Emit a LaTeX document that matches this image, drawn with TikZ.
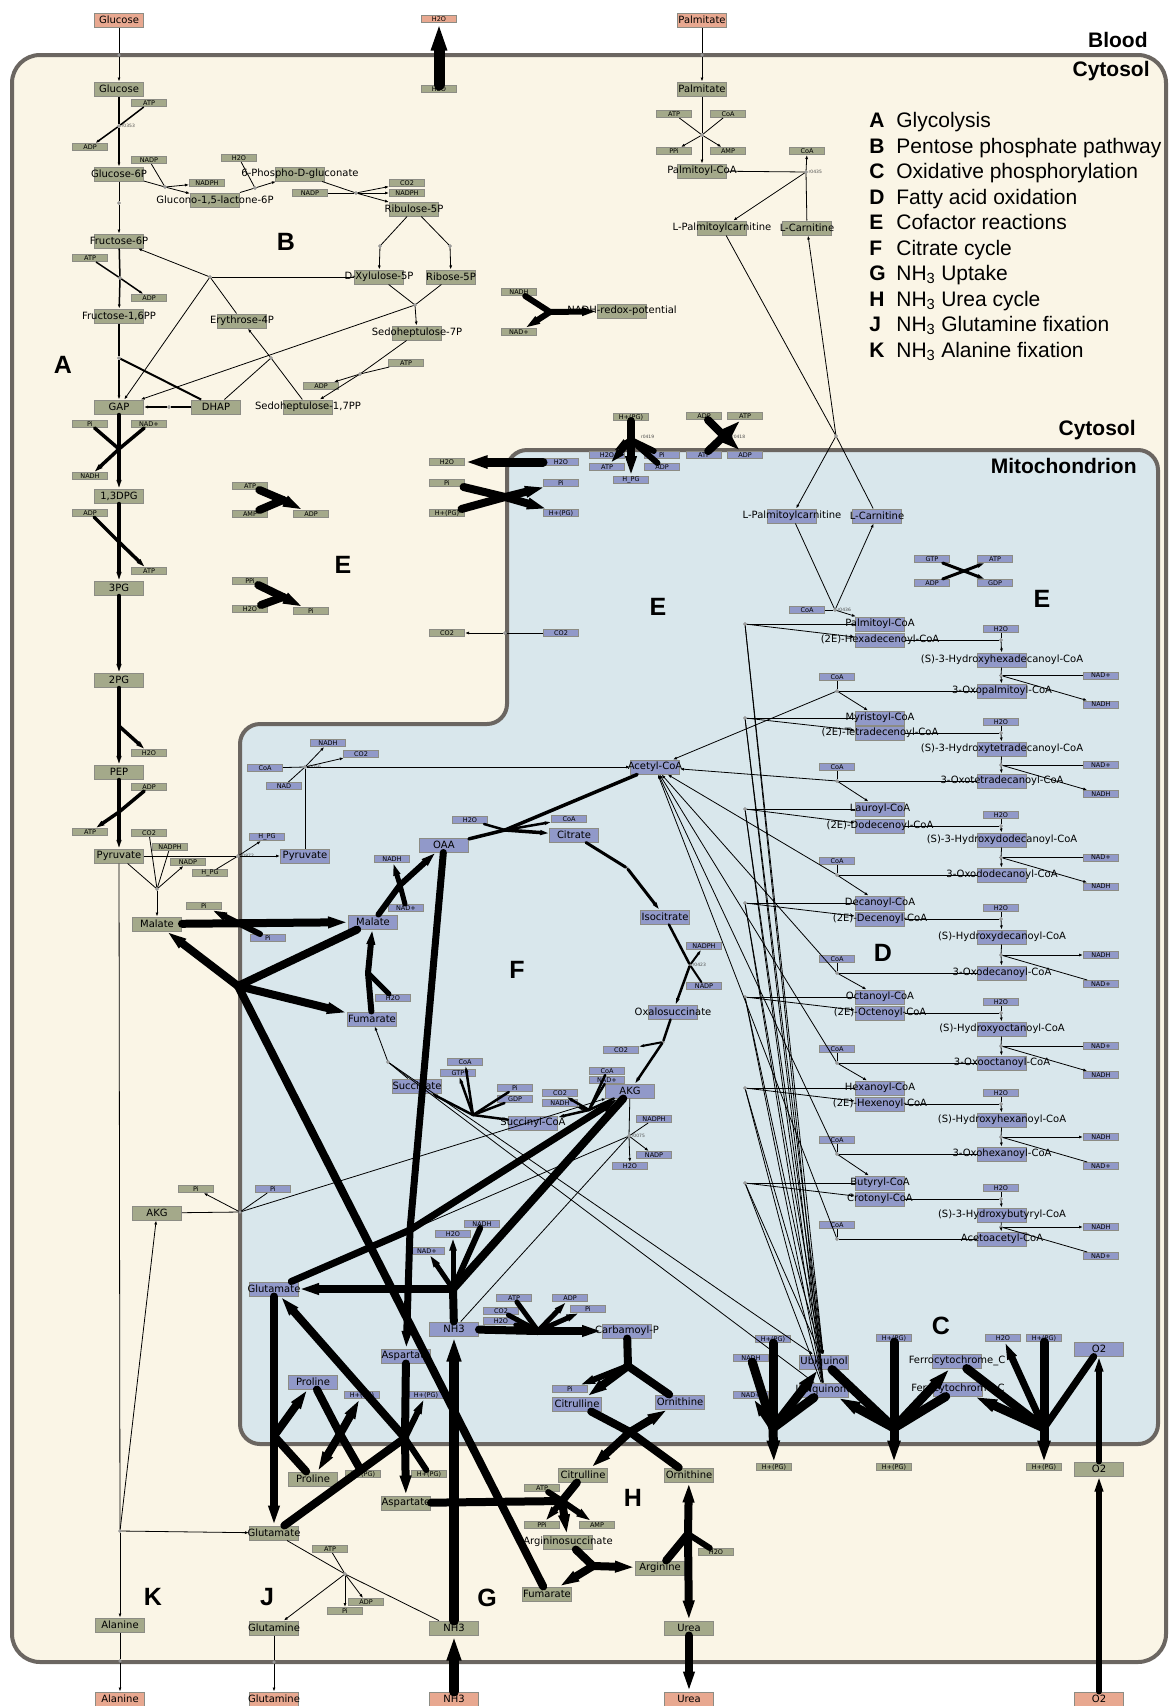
\documentclass[tikz,border=0pt]{standalone}
\usepackage{fontspec}
\setmainfont{DejaVu Sans}
\newfontfamily\headfont{Liberation Sans}
\usetikzlibrary{arrows.meta}

\definecolor{cytbg}{HTML}{FAF5E6}
\definecolor{mitbg}{HTML}{D9E7EC}
\definecolor{membr}{HTML}{6B6661}
\definecolor{cytfill}{HTML}{A4A98A}
\definecolor{mitfill}{HTML}{9199C9}
\definecolor{bldfill}{HTML}{E8A890}
\definecolor{boxline}{HTML}{8C8C84}
\definecolor{rxfill}{HTML}{B4B4B4}

\tikzset{
  met/.style={draw=boxline, line width=1pt, inner sep=0pt,
    minimum width=49pt, minimum height=14pt, font=\fontsize{10}{12}\selectfont,
    execute at begin node={\hbox to 0pt\bgroup\hss},
    execute at end node={\hss\egroup}},
  sm/.style={met, minimum width=35pt, minimum height=7pt, font=\fontsize{6.5}{7}\selectfont},
  cyt/.style={met, fill=cytfill},
  mit/.style={met, fill=mitfill},
  bld/.style={met, fill=bldfill},
  cytsm/.style={sm, fill=cytfill},
  mitsm/.style={sm, fill=mitfill},
  bldsm/.style={sm, fill=bldfill},
  rx/.style={circle, draw=gray, fill=rxfill, line width=0.4pt, inner sep=0pt, minimum size=3pt},
  rxlabel/.style={font=\fontsize{4.5}{5}\selectfont, text=black!70, inner sep=0.5pt},
  arr/.style={-{Latex[length=4pt,width=3pt]}},
  noarr/.style={},
  flux/.style={line width=#1, line cap=round, -{Triangle[length=0pt 2.5, width=0pt 1.3]}},
  flx/.style={line width=#1, line cap=round},
  membrane/.style={line width=4pt, draw=membr},
  comp/.style={font=\headfont\bfseries\fontsize{21}{24}\selectfont, inner sep=0pt},
  seclbl/.style={font=\headfont\bfseries\fontsize{25}{28}\selectfont, inner sep=0pt},
  legl/.style={font=\headfont\bfseries\fontsize{21}{24}\selectfont, inner sep=0pt},
  legt/.style={font=\headfont\fontsize{21}{24}\selectfont, inner sep=0pt}
}

\begin{document}
\begin{tikzpicture}[x=1pt, y=-1pt, line width=0.8pt]
\useasboundingbox (0,0) rectangle (1169,1706);

% compartments
\draw[membrane, fill=cytbg, rounded corners=28pt] (12,55) rectangle (1166,1662);
\draw[membrane, fill=mitbg, rounded corners=20pt] (800,450) -- (1158,450) -- (1158,1444)
  -- (240,1444) -- (240,724) -- (507,724) -- (507,450) -- cycle;
\node[comp, anchor=east] (lblood) at (1148,40) {Blood};
\node[comp, anchor=east] (lcyt) at (1150,71) {Cytosol};
\node[comp, anchor=east] (lcyt2) at (1136,430) {Cytosol};
\node[comp, anchor=east] (lmit) at (1137,466) {Mitochondrion};

% legend
\foreach \l/\t [count=\n] in {A/Glycolysis, B/Pentose phosphate pathway,
  C/Oxidative phosphorylation, D/Fatty acid oxidation, E/Cofactor reactions,
  F/Citrate cycle, G/NH\textsubscript{3} Uptake, H/NH\textsubscript{3} Urea cycle,
  J/NH\textsubscript{3} Glutamine fixation, K/NH\textsubscript{3} Alanine fixation}
{
  \node[legl, anchor=base west] (legl\n) at (869,102+25.5*\n) {\l};
  \node[legt, anchor=base west] (legt\n) at (896,102+25.5*\n) {\t};
}

% section letters
\node[seclbl] (sA) at (63,365) {A};
\node[seclbl] (sB) at (286,242) {B};
\node[seclbl] (sC) at (941,1326) {C};
\node[seclbl] (sD) at (883,953) {D};
\node[seclbl] (sE1) at (343,565) {E};
\node[seclbl] (sE2) at (658,607) {E};
\node[seclbl] (sE3) at (1042,599) {E};
\node[seclbl] (sF) at (517,970) {F};
\node[seclbl] (sG) at (487,1598) {G};
\node[seclbl] (sH) at (633,1498) {H};
\node[seclbl] (sJ) at (267,1597) {J};
\node[seclbl] (sK) at (153,1597) {K};

% blood
\node[bld] (bGlc) at (119,20) {Glucose};
\node[bldsm] (bH2O) at (439,19) {H2O};
\node[bld] (bPalm) at (702,20) {Palmitate};
\node[bld] (bAla) at (120,1699) {Alanine};
\node[bld] (bGln) at (274,1699) {Glutamine};
\node[bld] (bNH3) at (454,1699) {NH3};
\node[bld] (bUrea) at (689,1699) {Urea};
\node[bld] (bO2) at (1099,1699) {O2};
\node[rx] (mxGlc) at (119,55) {};
\node[rx] (mxPalm) at (702,55) {};
\node[rx] (mxAla) at (120,1661) {};
\node[rx] (mxGln) at (274,1662) {};

% glycolysis
\node[cyt] (cGlc) at (119,89) {Glucose};
\node[cytsm] (atpA) at (149,103) {ATP};
\node[rx, label={[rxlabel]right:r0353}] (r0353) at (119,126) {};
\node[cytsm] (adpA) at (90,147) {ADP};
\node[cyt] (cG6P) at (119,174) {Glucose-6P};
\node[rx] (rG6P) at (119,203) {};
\node[cyt] (cF6P) at (119,241) {Fructose-6P};
\node[cytsm] (atpB) at (90,258) {ATP};
\node[rx] (rPFK) at (120,278) {};
\node[cytsm] (adpB) at (149,298) {ADP};
\node[cyt] (cFBP) at (119,316) {Fructose-1,6PP};
\node[rx] (rALD) at (119,358) {};
\node[cyt] (cGAP) at (119,407) {GAP};
\node[cyt] (cDHAP) at (216,407) {DHAP};
\node[rx] (rTPI) at (169,407) {};
\node[cytsm] (piA) at (90,424) {Pi};
\node[cytsm] (nadA) at (149,424) {NAD+};
\coordinate (rGAPDH) at (119,449);
\node[cytsm] (nadhA) at (90,476) {NADH};
\node[cyt] (cBPG) at (119,496) {1,3DPG};
\node[cytsm] (adpC) at (90,513) {ADP};
\coordinate (rPGK) at (119,542);
\node[cytsm] (atpC) at (149,571) {ATP};
\node[cyt] (c3PG) at (119,588) {3PG};
\coordinate (rPGM) at (119,634);
\node[cyt] (c2PG) at (119,680) {2PG};
\coordinate (rENO) at (119,726);
\node[cytsm] (h2oA) at (149,753) {H2O};
\node[cyt] (cPEP) at (119,772) {PEP};
\node[cytsm] (adpD) at (149,787) {ADP};
\coordinate (rPK) at (119,812);
\node[cytsm] (atpD) at (90,832) {ATP};
\node[cyt] (cPyr) at (119,856) {Pyruvate};

% pentose phosphate
\node[cytsm] (nadpA) at (149,160) {NADP};
\node[rx] (rG6PDH) at (165,187) {};
\node[cytsm] (nadphA) at (207,183) {NADPH};
\node[cyt] (cGL6P) at (215,200) {Glucono-1,5-lactone-6P};
\node[cytsm] (h2oB) at (239,158) {H2O};
\node[rx] (rPGL) at (255,188) {};
\node[cyt] (c6PG) at (300,174) {6-Phospho-D-gluconate};
\node[cytsm] (nadpB) at (310,193) {NADP};
\node[rx] (rPGD) at (356,193) {};
\node[cytsm] (co2A) at (407,183) {CO2};
\node[cytsm] (nadphB) at (407,193) {NADPH};
\node[cyt] (cRu5P) at (414,209) {Ribulose-5P};
\node[rx] (rRPE) at (380,246) {};
\node[rx] (rRPI) at (450,246) {};
\node[cyt] (cXu5P) at (379,277) {D-Xylulose-5P};
\node[cyt] (cR5P) at (451,277) {Ribose-5P};
\node[rx] (rTK1) at (415,305) {};
\node[cyt] (cS7P) at (417,333) {Sedoheptulose-7P};
\node[cytsm] (atpE) at (406,363) {ATP};
\node[rx] (rS7K) at (360,374) {};
\node[cytsm] (adpE) at (321,386) {ADP};
\node[cyt] (cS17) at (308,407) {Sedoheptulose-1,7PP};
\node[cyt] (cE4P) at (242,321) {Erythrose-4P};
\node[rx] (rTK2) at (210,277) {};
\node[rx] (rALD2) at (271,358) {};

% malic enzyme, pyruvate transport
\node[cytsm] (co2B) at (149,833) {CO2};
\node[cytsm] (nadphC) at (170,847) {NADPH};
\node[cytsm] (nadpC) at (188,862) {NADP};
\node[cytsm] (hpgA) at (210,873) {H\_PG};
\node[rx] (rME) at (157,889) {};
\node[cyt] (cMal) at (157,924) {Malate};
\node[rx, label={[rxlabel]right:r0872}] (r0872) at (238,856) {};
\node[mit] (mPyr) at (305,856) {Pyruvate};
\node[mitsm] (hpgB) at (267,837) {H\_PG};

% pyruvate dehydrogenase
\node[rx, label={[rxlabel]right:r0056}] (r0056) at (305,767) {};
\node[mitsm] (coaA) at (265,768) {CoA};
\node[mitsm] (nadB) at (284,786) {NAD};
\node[mitsm] (nadhB) at (328,743) {NADH};
\node[mitsm] (co2C) at (361,754) {CO2};
\node[mit] (mAcCoA) at (655,767) {Acetyl-CoA};

% citrate cycle
\node[mit] (mOAA) at (444,845) {OAA};
\node[mitsm] (h2oC) at (470,820) {H2O};
\node[mitsm] (coaB) at (569,819) {CoA};
\node[mit] (mCit) at (574,835) {Citrate};
\coordinate (rCS) at (505,830);
\node[rx] (rACO) at (627,868) {};
\node[mit] (mIcit) at (665,917) {Isocitrate};
\node[rx, label={[rxlabel]right:r0423}] (r0423) at (690,965) {};
\node[mitsm] (nadphD) at (704,946) {NADPH};
\node[mitsm] (nadpD) at (704,986) {NADP};
\node[mit] (mOxs) at (673,1012) {Oxalosuccinate};
\node[rx] (rOXD) at (663,1042) {};
\node[mitsm] (co2D) at (621,1050) {CO2};
\node[mit] (mAKG) at (630,1091) {AKG};
\coordinate (rAKGDH) at (589,1110);
\node[mitsm] (coaC) at (607,1071) {CoA};
\node[mitsm] (nadC) at (607,1080) {NAD+};
\node[mitsm] (co2E) at (560,1093) {CO2};
\node[mitsm] (nadhC) at (560,1103) {NADH};
\node[mit] (mSucCoA) at (533,1123) {Succinyl-CoA};
\coordinate (rSCS) at (473,1115);
\node[mitsm] (coaD) at (465,1062) {CoA};
\node[mitsm] (gtpA) at (458,1073) {GTP};
\node[mitsm] (piB) at (515,1088) {Pi};
\node[mitsm] (gdpA) at (515,1099) {GDP};
\node[mit] (mSuc) at (417,1086) {Succinate};
\node[rx] (rSDH) at (388,1062) {};
\node[mit] (mFum) at (372,1019) {Fumarate};
\coordinate (rFH) at (368,973);
\node[mitsm] (h2oD) at (393,998) {H2O};
\node[mit] (mMal) at (373,922) {Malate};
\coordinate (rMDH) at (400,885);
\node[mitsm] (nadhD) at (392,859) {NADH};
\node[mitsm] (nadD) at (406,908) {NAD+};

% malate, fumarate, AKG transport
\coordinate (rFMT) at (238,986);
\node[cytsm] (piC) at (204,906) {Pi};
\node[mitsm] (piD) at (268,938) {Pi};
\node[cyt] (cAKG) at (157,1213) {AKG};
\node[rx] (rAKGT) at (240,1212) {};
\node[cytsm] (piE) at (196,1189) {Pi};
\node[mitsm] (piF) at (273,1189) {Pi};

% glutamate, aspartate, proline
\node[mit] (mGlu) at (274,1289) {Glutamate};
\coordinate (rGDH) at (453,1289);
\node[mitsm] (nadhE) at (482,1224) {NADH};
\node[mitsm] (h2oE) at (453,1234) {H2O};
\node[mitsm] (nadE) at (427,1251) {NAD+};
\node[mit] (mNH3) at (454,1329) {NH3};
\node[rx, label={[rxlabel]right:r0075}] (r0075) at (629,1136) {};
\node[mitsm] (nadphE) at (654,1119) {NADPH};
\node[mitsm] (nadpE) at (654,1155) {NADP};
\node[mitsm] (h2oF) at (630,1166) {H2O};
\coordinate (rAST) at (410,1230);
\coordinate (rAGC) at (405,1438);
\node[mit] (mAsp) at (406,1356) {Aspartate};
\node[mitsm] (hpgC) at (426,1395) {H+(PG)};
\node[cytsm] (hpgD) at (429,1474) {H+(PG)};
\node[cyt] (cAsp) at (406,1503) {Aspartate};
\node[mit] (mPro) at (313,1382) {Proline};
\node[cyt] (cPro) at (313,1479) {Proline};
\node[mitsm] (hpgE) at (362,1395) {H+(PG)};
\node[cytsm] (hpgF) at (363,1474) {H+(PG)};
\coordinate (rPRO1) at (274,1436);
\coordinate (rPRO2) at (340,1434);
\node[cyt] (cGlu) at (274,1533) {Glutamate};

% alanine and glutamine
\node[rx] (rALT) at (120,1531) {};
\node[cyt] (cAla) at (120,1625) {Alanine};
\node[rx] (rGS) at (345,1574) {};
\node[cytsm] (atpF) at (330,1549) {ATP};
\node[cytsm] (adpF) at (366,1602) {ADP};
\node[cytsm] (piG) at (345,1611) {Pi};
\node[cyt] (cGln) at (274,1628) {Glutamine};
\node[cyt] (cNH3) at (454,1628) {NH3};

% urea cycle
\coordinate (rCPS) at (538,1331);
\node[mitsm] (atpG) at (514,1298) {ATP};
\node[mitsm] (co2F) at (501,1311) {CO2};
\node[mitsm] (h2oG) at (501,1321) {H2O};
\node[mitsm] (adpG) at (570,1298) {ADP};
\node[mitsm] (piH) at (588,1309) {Pi};
\node[mit] (mCarbP) at (627,1331) {Carbamoyl-P};
\coordinate (rOTC) at (628,1366);
\node[mitsm] (piI) at (570,1389) {Pi};
\node[mit] (mCitr) at (577,1404) {Citrulline};
\node[mit] (mOrn) at (680,1402) {Ornithine};
\coordinate (rORC) at (630,1432);
\node[cyt] (cCitr) at (583,1475) {Citrulline};
\node[cyt] (cOrn) at (689,1475) {Ornithine};
\coordinate (rASS) at (562,1501);
\node[cytsm] (atpH) at (542,1488) {ATP};
\node[cytsm] (ppiA) at (542,1525) {PPi};
\node[cytsm] (ampA) at (597,1525) {AMP};
\node[cyt] (cArgs) at (568,1542) {Argininosuccinate};
\coordinate (rASL) at (593,1566);
\node[cyt] (cFum) at (547,1594) {Fumarate};
\node[cyt] (cArg) at (660,1568) {Arginine};
\coordinate (rARG) at (688,1534);
\node[cytsm] (h2oH) at (716,1552) {H2O};
\node[cyt] (cUrea) at (689,1628) {Urea};
\node[cytsm] (cH2O) at (439,89) {H2O};

% palmitate and carnitine shuttle
\node[cyt] (cPalm) at (702,89) {Palmitate};
\node[cytsm] (atpI) at (674,114) {ATP};
\node[cytsm] (coaE) at (728,114) {CoA};
\node[cytsm] (ppiB) at (674,151) {PPi};
\node[cytsm] (ampB) at (728,151) {AMP};
\node[rx] (rACS) at (702,135) {};
\node[cyt] (cPalmCoA) at (702,171) {Palmitoyl-CoA};
\node[rx, label={[rxlabel]right:r0435}] (r0435) at (806,172) {};
\node[cytsm] (coaF) at (807,151) {CoA};
\node[cyt] (cCarn) at (807,228) {L-Carnitine};
\node[cyt] (cPalmCarn) at (722,228) {L-Palmitoylcarnitine};
\node[rx] (rCACT) at (836,436) {};
\node[mit] (mPalmCarn) at (792,516) {L-Palmitoylcarnitine};
\node[mit] (mCarn) at (877,516) {L-Carnitine};
\node[rx, label={[rxlabel]right:r0436}] (r0436) at (835,610) {};
\node[mitsm] (coaG) at (807,610) {CoA};

% ATP synthase, translocase, carriers
\node[cytsm] (hpgG) at (631,417) {H+(PG)};
\node[cytsm] (adpH) at (704,416) {ADP};
\node[cytsm] (atpJ) at (745,416) {ATP};
\node[mitsm] (h2oI) at (607,455) {H2O};
\node[mitsm] (piJ) at (662,455) {Pi};
\node[mitsm] (atpK) at (607,467) {ATP};
\node[mitsm] (adpI) at (662,467) {ADP};
\node[mitsm] (hpgH) at (631,480) {H\_PG};
\node[mitsm] (atpL) at (704,455) {ATP};
\node[mitsm] (adpJ) at (745,455) {ADP};
\coordinate (rATPS) at (631,440);
\coordinate (rANT) at (724,436);
\node[rxlabel, anchor=west] (l0419) at (640,437) {r0419};
\node[rxlabel, anchor=west] (l0418) at (731,437) {r0418};
\node[cytsm] (h2oJ) at (447,462) {H2O};
\node[mitsm] (h2oK) at (561,462) {H2O};
\node[cytsm] (piK) at (447,483) {Pi};
\node[mitsm] (piL) at (561,483) {Pi};
\node[cytsm] (hpgI) at (447,513) {H+(PG)};
\node[mitsm] (hpgJ) at (561,513) {H+(PG)};
\node[cytsm] (co2G) at (447,633) {CO2};
\node[mitsm] (co2H) at (561,633) {CO2};
\node[rx] (rCO2T) at (505,633) {};
\coordinate (rPIC) at (505,497);

% cofactor reactions
\node[mitsm] (gtpB) at (932,559) {GTP};
\node[mitsm] (atpM) at (995,559) {ATP};
\node[mitsm] (adpK) at (932,583) {ADP};
\node[mitsm] (gdpB) at (995,583) {GDP};
\coordinate (rNDK) at (964,571);
\node[cytsm] (atpN) at (250,486) {ATP};
\node[cytsm] (ampC) at (250,514) {AMP};
\node[cytsm] (adpL) at (311,514) {ADP};
\coordinate (rAK) at (283,500);
\node[cytsm] (ppiC) at (250,581) {PPi};
\node[cytsm] (h2oL) at (250,609) {H2O};
\node[cytsm] (piM) at (311,611) {Pi};
\coordinate (rPPA) at (283,597);
\node[cytsm] (nadhF) at (519,292) {NADH};
\node[cytsm] (nadF) at (519,332) {NAD+};
\node[cyt] (cRedox) at (622,311) {NADH-redox-potential};
\coordinate (rRED) at (550,312);

% oxidative phosphorylation
\node[mit] (mUQH) at (824,1362) {Ubiquinol};
\node[mit] (mUQ) at (824,1390) {Ubiquinone};
\node[mit] (mFerro) at (957,1361) {Ferrocytochrome\_C};
\node[mit] (mFerri) at (958,1389) {Ferricytochrome\_C};
\node[mit] (mO2) at (1099,1349) {O2};
\node[cyt] (cO2) at (1099,1469) {O2};
\node[mitsm] (hpgK) at (773,1339) {H+(PG)};
\node[mitsm] (nadhG) at (751,1358) {NADH};
\node[mitsm] (nadG) at (751,1395) {NAD+};
\node[cytsm] (hpgL) at (774,1467) {H+(PG)};
\node[mitsm] (hpgM) at (894,1338) {H+(PG)};
\node[cytsm] (hpgN) at (894,1467) {H+(PG)};
\node[mitsm] (h2oM) at (1003,1338) {H2O};
\node[mitsm] (hpgO) at (1044,1338) {H+(PG)};
\node[cytsm] (hpgP) at (1044,1467) {H+(PG)};
\coordinate (rC1) at (773,1428);
\coordinate (rC3) at (894,1428);
\coordinate (rC4) at (1044,1428);

% connectors: glycolysis
\draw (bGlc) -- (mxGlc);
\draw[arr] (mxGlc) -- (cGlc);
\draw[line width=1.5pt] (cGlc) -- (r0353);
\draw[line width=1.5pt] (atpA) -- (r0353);
\draw[arr, line width=1.5pt] (r0353) -- (adpA);
\draw[arr, line width=1.5pt] (r0353) -- (cG6P);
\draw (cG6P) -- (rG6P);
\draw[arr] (rG6P) -- (cF6P);
\draw[line width=1.5pt] (cF6P) -- (rPFK);
\draw[line width=1.5pt] (atpB) -- (rPFK);
\draw[arr, line width=1.5pt] (rPFK) -- (adpB);
\draw[arr, line width=1.5pt] (rPFK) -- (cFBP);
\draw[line width=2pt] (cFBP) -- (rALD);
\draw[arr, line width=2pt] (rALD) -- (cGAP);
\draw[line width=2pt] (rALD) -- (cDHAP);
\draw[line width=2pt] (cDHAP) -- (rTPI);
\draw[arr, line width=2pt] (rTPI) -- (cGAP);
\draw[flx=3.5pt] (cGAP) -- (rGAPDH);
\draw[flx=3.5pt] (piA) -- (rGAPDH);
\draw[flx=3.5pt] (nadA) -- (rGAPDH);
\draw[flux=3.5pt] (rGAPDH) -- (nadhA);
\draw[flux=3.5pt] (rGAPDH) -- (cBPG);
\draw[flx=3.5pt] (cBPG) -- (rPGK);
\draw[flx=3.5pt] (adpC) -- (rPGK);
\draw[flux=3.5pt] (rPGK) -- (atpC);
\draw[flux=3.5pt] (rPGK) -- (c3PG);
\draw[flx=3.5pt] (c3PG) -- (rPGM);
\draw[flux=3.5pt] (rPGM) -- (c2PG);
\draw[flx=3.5pt] (c2PG) -- (rENO);
\draw[flux=3.5pt] (rENO) -- (h2oA);
\draw[flux=3.5pt] (rENO) -- (cPEP);
\draw[flx=3.5pt] (cPEP) -- (rPK);
\draw[flx=3.5pt] (adpD) -- (rPK);
\draw[flux=3.5pt] (rPK) -- (atpD);
\draw[flux=3.5pt] (rPK) -- (cPyr);

% connectors: pentose phosphate
\draw (cG6P) -- (rG6PDH);
\draw (nadpA) -- (rG6PDH);
\draw[arr] (rG6PDH) -- (nadphA);
\draw[arr] (rG6PDH) -- (cGL6P);
\draw (cGL6P) -- (rPGL);
\draw (h2oB) -- (rPGL);
\draw[arr] (rPGL) -- (c6PG);
\draw (c6PG) -- (rPGD);
\draw (nadpB) -- (rPGD);
\draw[arr] (rPGD) -- (co2A);
\draw[arr] (rPGD) -- (nadphB);
\draw[arr] (rPGD) -- (cRu5P);
\draw (cRu5P) -- (rRPE);
\draw[arr] (rRPE) -- (cXu5P);
\draw (cRu5P) -- (rRPI);
\draw[arr] (rRPI) -- (cR5P);
\draw (cXu5P) -- (rTK1);
\draw (cR5P) -- (rTK1);
\draw[arr] (rTK1) -- (cS7P);
\draw[arr] (rTK1) -- (cGAP);
\draw (cS7P) -- (rS7K);
\draw (atpE) -- (rS7K);
\draw[arr] (rS7K) -- (adpE);
\draw[arr] (rS7K) -- (cS17);
\draw (cS17) -- (rALD2);
\draw[arr] (rALD2) -- (cE4P);
\draw (rALD2) -- (cDHAP);
\draw (cXu5P) -- (rTK2);
\draw (cE4P) -- (rTK2);
\draw[arr] (rTK2) -- (cF6P);
\draw[arr] (rTK2) -- (cGAP);

% connectors: pyruvate branch
\draw (cPyr) -- (rME);
\draw (co2B) -- (rME);
\draw (nadphC) -- (rME);
\draw[arr] (rME) -- (nadpC);
\draw[arr] (rME) -- (cMal);
\draw (cPyr) -- (r0872);
\draw (hpgA) -- (r0872);
\draw[arr] (r0872) -- (mPyr);
\draw[arr] (r0872) -- (hpgB);
\draw (mPyr) -- (r0056);
\draw (coaA) -- (r0056);
\draw (nadB) -- (r0056);
\draw[arr] (r0056) -- (nadhB);
\draw[arr] (r0056) -- (co2C);
\draw[arr] (r0056) -- (mAcCoA);
\draw (cPyr) -- (rALT);
\draw[arr] (rALT) -- (cAla);
\draw[arr] (rALT) -- (cGlu);
\draw[arr] (rALT) -- (cAKG);
\draw (cAla) -- (mxAla);
\draw[arr] (mxAla) -- (bAla);

% connectors: citrate cycle
\draw[flx=3.5pt] (mAcCoA) -- (rCS);
\draw[flx=3.5pt] (mOAA) -- (rCS);
\draw[flx=2.5pt] (h2oC) -- (rCS);
\draw[flux=2.5pt] (rCS) -- (coaB);
\draw[flux=3.5pt] (rCS) -- (mCit);
\draw[flx=3pt] (mCit) -- (rACO);
\draw[flux=3pt] (rACO) -- (mIcit);
\draw[flx=2.5pt] (mIcit) -- (r0423);
\draw[flx=2pt] (nadpD) -- (r0423);
\draw[flux=2pt] (r0423) -- (nadphD);
\draw[flux=2.5pt] (r0423) -- (mOxs);
\draw[flx=2.5pt] (mOxs) -- (rOXD);
\draw[flux=2pt] (rOXD) -- (co2D);
\draw[flux=2.5pt] (rOXD) -- (mAKG);
\draw[flx=2.5pt] (mAKG) -- (rAKGDH);
\draw[flx=2.5pt] (coaC) -- (rAKGDH);
\draw[flx=2.5pt] (nadC) -- (rAKGDH);
\draw[flux=2.5pt] (rAKGDH) -- (co2E);
\draw[flux=2.5pt] (rAKGDH) -- (nadhC);
\draw[flux=2.5pt] (rAKGDH) -- (mSucCoA);
\draw[flx=2.5pt] (mSucCoA) -- (rSCS);
\draw[flx=2.5pt] (piB) -- (rSCS);
\draw[flx=2.5pt] (gdpA) -- (rSCS);
\draw[flux=2.5pt] (rSCS) -- (coaD);
\draw[flux=2.5pt] (rSCS) -- (gtpA);
\draw[flux=2.5pt] (rSCS) -- (mSuc);
\draw (mSuc) -- (rSDH);
\draw[arr] (rSDH) -- (mFum);
\draw (rSDH) -- (mUQ);
\draw[arr] (rSDH) -- (mUQH);
\draw[flx=6pt] (mFum) -- (rFH);
\draw[flx=5pt] (h2oD) -- (rFH);
\draw[flux=6pt] (rFH) -- (mMal);
\draw[flx=6pt] (mMal) -- (rMDH);
\draw[flx=5pt] (nadD) -- (rMDH);
\draw[flux=6pt] (rMDH) -- (mOAA);
\draw[flux=5pt] (rMDH) -- (nadhD);

% connectors: carriers across inner membrane
\draw[flx=8pt] (cFum) -- (rFMT);
\draw[flx=8pt] (mMal) -- (rFMT);
\draw[flux=8pt] (rFMT) -- (cMal);
\draw[flux=8pt] (rFMT) -- (mFum);
\draw[flux=8pt] (cMal) -- (mMal);
\draw[flux=6pt] (piD) -- (piC);
\draw (cAKG) -- (rAKGT);
\draw (piF) -- (rAKGT);
\draw[arr] (rAKGT) -- (piE);
\draw[arr] (rAKGT) -- (mAKG);

% connectors: glutamate, aspartate, proline
\draw[flx=8pt] (mAKG) -- (rGDH);
\draw[flx=6pt] (nadhE) -- (rGDH);
\draw[flx=8pt] (mNH3) -- (rGDH);
\draw[flux=8pt] (rGDH) -- (mGlu);
\draw[flux=5pt] (rGDH) -- (h2oE);
\draw[flux=5pt] (rGDH) -- (nadE);
\draw (mAKG) -- (r0075);
\draw (nadphE) -- (r0075);
\draw (mNH3) -- (r0075);
\draw[arr] (r0075) -- (nadpE);
\draw[arr] (r0075) -- (h2oF);
\draw[arr] (r0075) -- (mGlu);
\draw[flx=7pt] (mOAA) -- (rAST);
\draw[flx=7pt] (mGlu) -- (rAST);
\draw[flux=7pt] (rAST) -- (mAsp);
\draw[flux=7pt] (rAST) -- (mAKG);
\draw[flx=8pt] (mAsp) -- (rAGC);
\draw[flx=8pt] (cGlu) -- (rAGC);
\draw[flx=6pt] (hpgD) -- (rAGC);
\draw[flux=8pt] (rAGC) -- (cAsp);
\draw[flux=8pt] (rAGC) -- (mGlu);
\draw[flux=6pt] (rAGC) -- (hpgC);
\draw[flux=8pt] (mGlu) -- (cGlu);
\draw[flx=8pt] (cPro) -- (rPRO1);
\draw[flux=8pt] (rPRO1) -- (mPro);
\draw[flx=8pt] (mPro) -- (rPRO2);
\draw[flx=8pt] (hpgF) -- (rPRO2);
\draw[flux=8pt] (rPRO2) -- (cPro);
\draw[flux=8pt] (rPRO2) -- (hpgE);

% connectors: glutamine, ammonia
\draw (cGlu) -- (rGS);
\draw (atpF) -- (rGS);
\draw (cNH3) -- (rGS);
\draw[arr] (rGS) -- (cGln);
\draw[arr] (rGS) -- (adpF);
\draw[arr] (rGS) -- (piG);
\draw (cGln) -- (mxGln);
\draw[arr] (mxGln) -- (bGln);
\draw[flux=10pt] (bNH3) -- (cNH3);
\draw[flux=10pt] (cNH3) -- (mNH3);
\draw[flux=11pt] (cH2O) -- (bH2O);

% connectors: urea cycle
\draw[flx=8pt] (mNH3) -- (rCPS);
\draw[flx=5pt] (atpG) -- (rCPS);
\draw[flx=5pt] (co2F) -- (rCPS);
\draw[flx=5pt] (h2oG) -- (rCPS);
\draw[flux=5pt] (rCPS) -- (adpG);
\draw[flux=5pt] (rCPS) -- (piH);
\draw[flux=8pt] (rCPS) -- (mCarbP);
\draw[flx=8pt] (mCarbP) -- (rOTC);
\draw[flx=8pt] (mOrn) -- (rOTC);
\draw[flux=8pt] (rOTC) -- (mCitr);
\draw[flux=6pt] (rOTC) -- (piI);
\draw[flx=8pt] (mCitr) -- (rORC);
\draw[flx=8pt] (cOrn) -- (rORC);
\draw[flux=8pt] (rORC) -- (cCitr);
\draw[flux=8pt] (rORC) -- (mOrn);
\draw[flx=8pt] (cAsp) -- (rASS);
\draw[flx=8pt] (cCitr) -- (rASS);
\draw[flx=6pt] (atpH) -- (rASS);
\draw[flux=6pt] (rASS) -- (ppiA);
\draw[flux=6pt] (rASS) -- (ampA);
\draw[flux=8pt] (rASS) -- (cArgs);
\draw[flx=8pt] (cArgs) -- (rASL);
\draw[flux=8pt] (rASL) -- (cFum);
\draw[flux=8pt] (rASL) -- (cArg);
\draw[flx=8pt] (cArg) -- (rARG);
\draw[flx=6pt] (h2oH) -- (rARG);
\draw[flux=8pt] (rARG) -- (cOrn);
\draw[flux=8pt] (rARG) -- (cUrea);
\draw[flux=8pt] (cUrea) -- (bUrea);

% connectors: palmitate
\draw (bPalm) -- (mxPalm);
\draw[arr] (mxPalm) -- (cPalm);
\draw (cPalm) -- (rACS);
\draw (atpI) -- (rACS);
\draw (coaE) -- (rACS);
\draw[arr] (rACS) -- (ppiB);
\draw[arr] (rACS) -- (ampB);
\draw[arr] (rACS) -- (cPalmCoA);
\draw (cPalmCoA) -- (r0435);
\draw (cCarn) -- (r0435);
\draw[arr] (r0435) -- (coaF);
\draw[arr] (r0435) -- (cPalmCarn);
\draw (cPalmCarn) -- (rCACT);
\draw[arr] (rCACT) -- (cCarn);
\draw[arr] (rCACT) -- (mPalmCarn);
\draw (mCarn) -- (rCACT);
\draw (mPalmCarn) -- (r0436);
\draw (coaG) -- (r0436);
\draw[arr] (r0436) -- (mCarn);

% connectors: ATP synthase and carriers
\draw[flx=8pt] (hpgG) -- (rATPS);
\draw[flx=6pt] (adpI) -- (rATPS);
\draw[flx=6pt] (piJ) -- (rATPS);
\draw[flux=6pt] (rATPS) -- (atpK);
\draw[flux=6pt] (rATPS) -- (h2oI);
\draw[flux=8pt] (rATPS) -- (hpgH);
\draw[flx=8pt] (adpH) -- (rANT);
\draw[flux=8pt] (rANT) -- (adpJ);
\draw[flx=8pt] (atpL) -- (rANT);
\draw[flux=8pt] (rANT) -- (atpJ);
\draw[flux=9pt] (h2oK) -- (h2oJ);
\draw[flx=8pt] (piK) -- (rPIC);
\draw[flx=8pt] (hpgI) -- (rPIC);
\draw[flux=8pt] (rPIC) -- (piL);
\draw[flux=8pt] (rPIC) -- (hpgJ);
\draw (co2H) -- (rCO2T);
\draw[arr] (rCO2T) -- (co2G);

% connectors: cofactor reactions
\draw[flx=3pt] (gtpB) -- (rNDK);
\draw[flux=3pt] (rNDK) -- (gdpB);
\draw[flx=3pt] (adpK) -- (rNDK);
\draw[flux=3pt] (rNDK) -- (atpM);
\draw[flx=8pt] (atpN) -- (rAK);
\draw[flx=8pt] (ampC) -- (rAK);
\draw[flux=8pt] (rAK) -- (adpL);
\draw[flx=8pt] (ppiC) -- (rPPA);
\draw[flx=8pt] (h2oL) -- (rPPA);
\draw[flux=8pt] (rPPA) -- (piM);
\draw[flx=6pt] (nadhF) -- (rRED);
\draw[flux=6pt] (rRED) -- (nadF);
\draw[flux=6pt] (rRED) -- (cRedox);

% connectors: oxidative phosphorylation
\draw[flx=9pt] (hpgK) -- (rC1);
\draw[flx=9pt] (nadhG) -- (rC1);
\draw[flx=9pt] (mUQ) -- (rC1);
\draw[flux=9pt] (rC1) -- (hpgL);
\draw[flux=7pt] (rC1) -- (nadG);
\draw[flux=9pt] (rC1) -- (mUQH);
\draw[flx=9pt] (mUQH) -- (rC3);
\draw[flx=9pt] (hpgM) -- (rC3);
\draw[flx=9pt] (mFerri) -- (rC3);
\draw[flux=9pt] (rC3) -- (hpgN);
\draw[flux=9pt] (rC3) -- (mUQ);
\draw[flux=9pt] (rC3) -- (mFerro);
\draw[flx=9pt] (mFerro) -- (rC4);
\draw[flx=9pt] (hpgO) -- (rC4);
\draw[flx=7pt] (mO2) -- (rC4);
\draw[flux=9pt] (rC4) -- (hpgP);
\draw[flux=7pt] (rC4) -- (h2oM);
\draw[flux=9pt] (rC4) -- (mFerri);
\draw[flux=6pt] (bO2) -- (cO2);
\draw[flux=6pt] (cO2) -- (mO2);

% fatty acid oxidation
\foreach \i/\ya/\ye/\yh/\yo/\acyl/\enoyl/\hyd/\oxo/\ntop/\nbot/\sa/\sb in {
  1/624/640/660/691/Palmitoyl-CoA/(2E)-Hexadecenoyl-CoA/(S)-3-Hydroxyhexadecanoyl-CoA/3-Oxopalmitoyl-CoA/NAD+/NADH/noarr/arr,
  2/718/733/749/781/Myristoyl-CoA/(2E)-Tetradecenoyl-CoA/(S)-3-Hydroxytetradecanoyl-CoA/3-Oxotetradecanoyl-CoA/NAD+/NADH/noarr/arr,
  3/809/826/840/875/Lauroyl-CoA/(2E)-Dodecenoyl-CoA/(S)-3-Hydroxydodecanoyl-CoA/3-Oxododecanoyl-CoA/NAD+/NADH/noarr/arr,
  4/903/919/937/973/Decanoyl-CoA/(2E)-Decenoyl-CoA/(S)-Hydroxydecanoyl-CoA/3-Oxodecanoyl-CoA/NADH/NAD+/arr/noarr,
  5/997/1013/1029/1063/Octanoyl-CoA/(2E)-Octenoyl-CoA/(S)-Hydroxyoctanoyl-CoA/3-Oxooctanoyl-CoA/NAD+/NADH/noarr/arr,
  6/1088/1104/1120/1154/Hexanoyl-CoA/(2E)-Hexenoyl-CoA/(S)-Hydroxyhexanoyl-CoA/3-Oxohexanoyl-CoA/NADH/NAD+/arr/noarr,
  7/1183/1199/1215/1239/Butyryl-CoA/Crotonyl-CoA/(S)-3-Hydroxybutyryl-CoA/Acetoacetyl-CoA/NADH/NAD+/arr/noarr}
{
  \pgfmathsetmacro\yd{(\yh+\yo)/2}
  \node[mit] (acyl\i) at (880,\ya) {\acyl};
  \node[mit] (enoyl\i) at (880,\ye) {\enoyl};
  \node[mitsm] (wat\i) at (1001,\ye-11) {H2O};
  \node[rx] (rHyd\i) at (1001,\ye) {};
  \node[mit] (hoa\i) at (1002,\yh) {\hyd};
  \node[rx] (rDh\i) at (1001,\yd) {};
  \node[mitsm] (ntop\i) at (1101,\yd) {\ntop};
  \node[mitsm] (nbot\i) at (1101,\yd+29) {\nbot};
  \node[mit] (oxo\i) at (1002,\yo) {\oxo};
  \node[mitsm] (bcoa\i) at (837,\yo-14) {CoA};
  \node[rx] (rTh\i) at (837,\yo) {};
  \node[rx] (rFad\i) at (745,\ya) {};
  \draw (acyl\i) -- (rFad\i);
  \draw[arr] (rFad\i) -- (enoyl\i);
  \draw (mUQ) -- (rFad\i);
  \draw[arr] (rFad\i) -- (mUQH);
  \draw (enoyl\i) -- (rHyd\i);
  \draw (wat\i) -- (rHyd\i);
  \draw[arr] (rHyd\i) -- (hoa\i);
  \draw (hoa\i) -- (rDh\i);
  \draw[\sa] (rDh\i) -- (ntop\i);
  \draw[\sb] (rDh\i) -- (nbot\i);
  \draw[arr] (rDh\i) -- (oxo\i);
  \draw (oxo\i) -- (rTh\i);
  \draw (bcoa\i) -- (rTh\i);
  \draw[arr] (rTh\i) -- (mAcCoA);
}
\foreach \i/\j in {1/2,2/3,3/4,4/5,5/6,6/7}
  \draw[arr] (rTh\i) -- (acyl\j);
\draw[arr] (r0436) -- (acyl1);

\end{tikzpicture}
\end{document}
